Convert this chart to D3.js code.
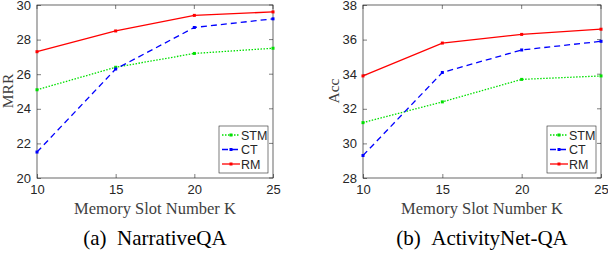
<!DOCTYPE html>
<html>
<head>
<meta charset="utf-8">
<script src="https://d3js.org/d3.v7.min.js"></script>
<style>
  body { margin: 0; background: #fff; }
  svg { display: block; }
</style>
</head>
<body>
<script>
// shared x values
var slots = [10, 15, 20, 25];
var seriesNames = ["STM", "CT", "RM"];

// NarrativeQA (MRR)
var mrrSTM = [25.1, 26.4, 27.2, 27.5];
var mrrCT = [21.5, 26.3, 28.7, 29.2];
var mrrRM = [27.3, 28.5, 29.4, 29.6];
var mrrTicks = [20, 22, 24, 26, 28, 30];

// ActivityNet-QA (Acc)
var accSTM = [31.2, 32.4, 33.7, 33.9];
var accCT = [29.3, 34.1, 35.4, 35.9];
var accRM = [33.9, 35.8, 36.3, 36.6];
var accTicks = [28, 30, 32, 34, 36, 38];

var colors = { STM: "#00e000", CT: "#0000ff", RM: "#ff0000" };
var dashes = { STM: "1.5,1.5", CT: "6,4", RM: null };

var svg = d3.select("body").append("svg")
  .attr("width", 608).attr("height", 256);

function panel(opts) {
  var x = d3.scaleLinear().domain([10, 25]).range([opts.left, opts.right]);
  var y = d3.scaleLinear().domain(opts.domain).range([178, 5]);
  var g = svg.append("g");

  // axes with inward ticks
  var xAxis = d3.axisBottom(x).tickValues(slots).tickSize(-4).tickPadding(7);
  var yAxis = d3.axisLeft(y).tickValues(opts.ticks).tickSize(-4).tickPadding(6);
  var gx = g.append("g").attr("transform", "translate(0,178)").call(xAxis);
  var gy = g.append("g").attr("transform", "translate(" + opts.left + ",0)").call(yAxis);
  [gx, gy].forEach(function(a) {
    a.select(".domain").remove();
    a.selectAll("line").attr("stroke", "#262626").attr("stroke-width", 0.6);
    a.selectAll("text").attr("fill", "#262626")
      .style("font-family", "Liberation Sans, Arial, sans-serif")
      .style("font-size", "13px");
  });
  // top/right inward ticks
  g.selectAll(".tt").data(slots).enter().append("line")
    .attr("x1", d => x(d)).attr("x2", d => x(d)).attr("y1", 5).attr("y2", 9)
    .attr("stroke", "#262626").attr("stroke-width", 0.6);
  g.selectAll(".rt").data(opts.ticks).enter().append("line")
    .attr("x1", opts.right).attr("x2", opts.right - 4)
    .attr("y1", d => y(d)).attr("y2", d => y(d))
    .attr("stroke", "#262626").attr("stroke-width", 0.6);

  g.append("rect").attr("x", opts.left).attr("y", 5)
    .attr("width", opts.right - opts.left).attr("height", 173)
    .attr("fill", "none").attr("stroke", "#262626").attr("stroke-width", 0.7);

  var line = d3.line().x((d, i) => x(slots[i])).y(d => y(d));
  seriesNames.forEach(function(name) {
    var vals = opts.series[name];
    g.append("path").datum(vals).attr("d", line)
      .attr("fill", "none").attr("stroke", colors[name]).attr("stroke-width", 1.3)
      .attr("stroke-dasharray", dashes[name]);
    g.selectAll(".m" + name).data(vals).enter().append("rect")
      .attr("x", (d, i) => x(slots[i]) - 1.5).attr("y", d => y(d) - 1.5)
      .attr("width", 3).attr("height", 3).attr("fill", colors[name]);
  });

  // legend
  var lx = opts.legendX, ly = 126, lw = 49, lh = 47;
  var lg = g.append("g");
  lg.append("rect").attr("x", lx).attr("y", ly).attr("width", lw).attr("height", lh)
    .attr("fill", "#fff").attr("stroke", "#262626").attr("stroke-width", 0.6);
  seriesNames.forEach(function(name, i) {
    var yy = ly + 9 + i * 14.5;
    lg.append("line").attr("x1", lx + 3).attr("x2", lx + 21).attr("y1", yy).attr("y2", yy)
      .attr("stroke", colors[name]).attr("stroke-width", 1.3)
      .attr("stroke-dasharray", dashes[name]);
    lg.append("rect").attr("x", lx + 10.5).attr("y", yy - 1.5).attr("width", 3).attr("height", 3)
      .attr("fill", colors[name]);
    lg.append("text").attr("x", lx + 22).attr("y", yy + 4.5).text(name)
      .attr("fill", "#262626")
      .style("font-family", "Liberation Sans, Arial, sans-serif").style("font-size", "12.5px");
  });

  // labels
  var cx = (opts.left + opts.right) / 2;
  g.append("text").attr("x", cx).attr("y", 214).attr("text-anchor", "middle")
    .style("font-family", "Liberation Serif, Times New Roman, serif").style("font-size", "16.5px")
    .attr("fill", "#404040").text("Memory Slot Number K");
  g.append("text").attr("transform", "translate(" + opts.ylabX + "," + 91 + ") rotate(-90)")
    .attr("text-anchor", "middle")
    .style("font-family", "Liberation Serif, Times New Roman, serif").style("font-size", "15.5px")
    .attr("fill", "#404040").text(opts.ylab);
  g.append("text").attr("x", cx).attr("y", 245).attr("text-anchor", "middle")
    .style("font-family", "Liberation Serif, Times New Roman, serif").style("font-size", "21px")
    .style("white-space", "pre")
    .attr("fill", "#000").text(opts.caption);
}

panel({
  left: 37, right: 273, domain: [20, 30], ticks: mrrTicks, legendX: 219,
  series: { STM: mrrSTM, CT: mrrCT, RM: mrrRM },
  ylab: "MRR", ylabX: 13, caption: "(a)\u00a0\u00a0NarrativeQA"
});
panel({
  left: 363, right: 601, domain: [28, 38], ticks: accTicks, legendX: 547,
  series: { STM: accSTM, CT: accCT, RM: accRM },
  ylab: "Acc", ylabX: 339, caption: "(b)\u00a0\u00a0ActivityNet-QA"
});
</script>
</body>
</html>
